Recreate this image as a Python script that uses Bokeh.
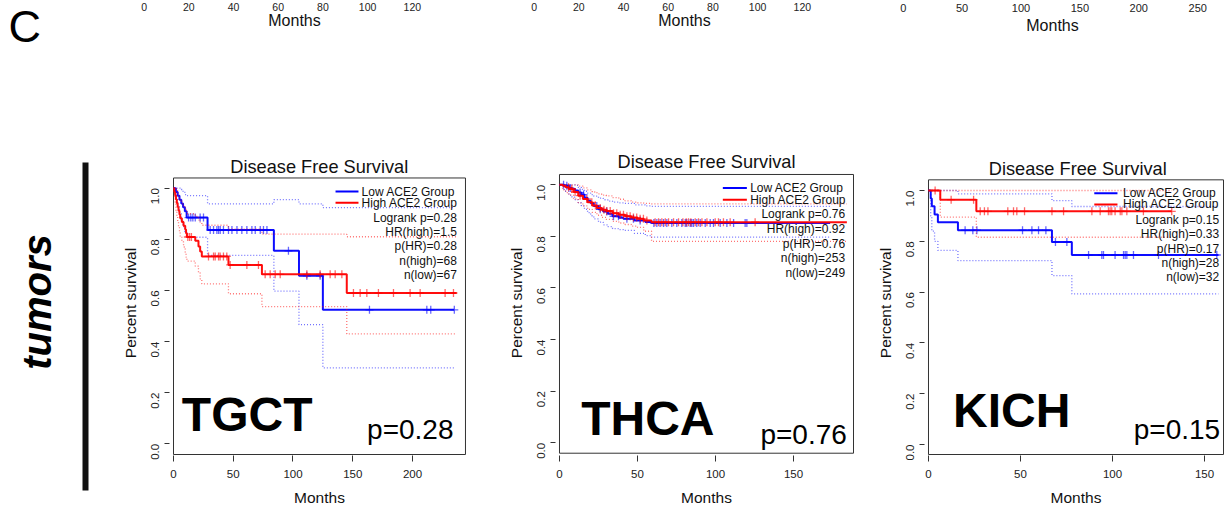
import math
from bisect import bisect_right
from bokeh.plotting import figure
from bokeh.layouts import column, row
from bokeh.models import Range1d, FixedTicker, PrintfTickFormatter, Label
from bokeh.embed import file_html
from bokeh.resources import INLINE

FONT = "Liberation Sans"
BLUE = "#0000FF"
RED = "#FF0000"

# ---------------- data ----------------
# TGCT
tgct_low_t = [0, 2, 3.5, 5, 6.5, 8, 9.5, 11, 28.5, 84, 105, 125]
tgct_low_s = [1.0, .985, .970, .955, .940, .925, .910, .885, .836, .755, .657, .524]
tgct_low_hi = [1.0, 1.0, 1.0, 1.0, .995, .985, .975, .971, .939, .955, .939, .924]
tgct_low_lo = [1.0, .96, .93, .90, .875, .85, .83, .808, .737, .597, .466, .297]
tgct_low_end = 235
tgct_low_cens = [12.6, 14.5, 16.2, 18.2, 22.3, 25.1, 30.7, 33.5, 36.3, 37.7, 39.1, 41.8, 46, 48.9,
                 53.1, 57.2, 61.4, 65.6, 68.4, 72.6, 75.3, 78.2, 96.2, 111.6, 122.7, 164, 212, 215.3, 235]
tgct_high_t = [0, 0.7, 1.4, 2.1, 2.8, 3.5, 4.2, 5, 5.6, 7, 8.4, 9.8, 10.5, 11.2, 18.2, 20.9, 22.3, 23.7, 46, 74, 145]
tgct_high_s = [1, .985, .971, .956, .941, .926, .912, .897, .882, .868, .853, .838, .824, .809, .794, .772, .752, .733, .70, .663, .59]
tgct_high_hi = [1, 1, 1, .998, .99, .98, .97, .96, .95, .94, .93, .92, .91, .90, .89, .875, .865, .855, .84, .82, .81]
tgct_high_lo = [1, .96, .94, .91, .89, .87, .85, .83, .81, .79, .77, .745, .73, .715, .695, .67, .645, .626, .587, .537, .43]
tgct_high_end = 237
tgct_high_cens = [12, 13.5, 15, 29.3, 33.5, 34.9, 37.7, 39, 41.8, 44.6, 47.4, 61.4, 71.1, 76.7, 80.9, 85.1,
                  89.3, 111.6, 122.7, 131.1, 135.3, 140.9, 150.6, 156.2, 161.8, 171.5, 184.1, 198, 206.4, 227.3, 234.3]

# THCA
thca_low_t = [0, 3, 6, 8, 10, 12, 14, 16, 18, 20, 22, 25, 28, 31, 34, 38, 41, 48, 55, 59]
thca_low_s = [1.0, .996, .988, .984, .978, .970, .962, .950, .938, .928, .918, .905, .896, .888, .878, .872, .868, .862, .856, .852]
thca_low_hi = [1.0, 1.0, 1.0, 1.0, .998, .99, .982, .975, .968, .962, .956, .948, .942, .937, .933, .93, .928, .922, .918, .916]
thca_low_lo = [1.0, .975, .96, .952, .942, .93, .918, .905, .892, .88, .868, .855, .845, .838, .83, .826, .823, .812, .803, .797]
thca_low_end = 173.5
thca_low_cens = [2.6, 4.7, 6.9, 13.2, 15.4, 23.9, 26.1, 30.3, 34.6, 37.8, 43.2, 47.4, 51.7, 60.5, 62.4, 64.5,
                 66.7, 68.8, 72, 75.2, 78.4, 80.6, 81.6, 83.8, 84.8, 85.9, 88, 90.2, 93.4, 96.6, 98.7, 103,
                 107.3, 111.6, 119, 120.1]
thca_high_t = [0, 2, 4, 6, 9, 12, 15, 18, 21, 24, 27, 30, 34, 38, 42, 46, 50, 54, 59]
thca_high_s = [1.0, .996, .99, .984, .972, .958, .945, .932, .92, .91, .903, .898, .89, .884, .878, .873, .868, .862, .855]
thca_high_hi = [1.0, 1.0, 1.0, 1.0, 1.0, .995, .988, .98, .972, .965, .96, .957, .95, .944, .938, .933, .93, .928, .926]
thca_high_lo = [1.0, .98, .97, .96, .945, .93, .918, .905, .893, .882, .874, .866, .858, .852, .846, .84, .835, .82, .781]
thca_high_end = 184.2
thca_high_cens = [5.8, 7.9, 10, 13.2, 17.5, 20.7, 23, 26.1, 28.5, 30.3, 32.5, 34.6, 36.7, 38.9, 41, 43.2,
                  45.3, 47.4, 49.5, 51.7, 53.8, 56, 61.3, 63.5, 65.6, 67.8, 69.9, 73.1, 76.3, 79.1, 81.2,
                  82.7, 84.2, 87, 89.1, 91.3, 94.5, 99.8, 101.9, 105.1, 109.4, 125.4]

# KICH
kich_low_t = [0, 1.2, 1.8, 3.3, 5.1, 16, 67.1, 77.9]
kich_low_s = [1, .969, .938, .906, .875, .844, .797, .746]
kich_low_hi = [1, 1, 1, 1, 1, .987, .96, .937]
kich_low_lo = [1, .90, .84, .80, .764, .724, .665, .593]
kich_low_end = 157.6
kich_low_cens = [19.9, 24.1, 26.3, 51.1, 56.2, 59.8, 63.8, 69, 75.2, 87, 94.2, 95.1, 101.4, 106, 106.9,
                 107.8, 111.4, 125, 156.7]
kich_high_t = [0, 6.4, 26]
kich_high_s = [1, .964, .918]
kich_high_hi = [1, 1, 1]
kich_high_lo = [1, .895, .816]
kich_high_end = 132.2
kich_high_cens = [3.6, 12.3, 24.5, 28.1, 30.4, 32.3, 43.1, 46.2, 48, 52.2, 67.1, 73.4, 88.8, 93.3, 97.8,
                  98.7, 99.6, 101.4, 104.2, 105.1, 107.8, 116.8, 132.2]

legend_labels = ["Low ACE2 Group", "High ACE2 Group"]
tgct_stats = ["Logrank p=0.28", "HR(high)=1.5", "p(HR)=0.28", "n(high)=68", "n(low)=67"]
thca_stats = ["Logrank p=0.76", "HR(high)=0.92", "p(HR)=0.76", "n(high)=253", "n(low)=249"]
kich_stats = ["Logrank p=0.15", "HR(high)=0.33", "p(HR)=0.17", "n(high)=28", "n(low)=32"]
y_ticks = [0.0, 0.2, 0.4, 0.6, 0.8, 1.0]

# tick labels of the row of plots above (shown at the very top edge)
above_ticks_a = ["0", "20", "40", "60", "80", "100", "120"]
above_ticks_b = ["0", "50", "100", "150", "200", "250"]


def draw_km(p, t, s, hi, lo, end, cens, color):
    x = list(t) + [end]
    for band in (hi, lo):
        p.step(x, list(band) + [band[-1]], mode="after", line_dash="1 2", line_color=color,
               line_alpha=0.55, line_width=1.3)
    p.step(x, list(s) + [s[-1]], mode="after", line_color=color, line_width=2, line_alpha=0.95)
    cy = [s[bisect_right(t, c) - 1] for c in cens]
    p.scatter(cens, cy, marker="cross", size=8, line_color=color, line_alpha=0.6, line_width=1.3)


def lab(p, x, y, text, size, align="left", style="normal", color="#111111", angle=0.0):
    p.add_layout(Label(x=x, y=y, text=text, text_align=align, text_baseline="middle",
                       text_font=FONT, text_font_size=size, text_font_style=style,
                       text_color=color, angle=angle))


def panel(cfg):
    p = figure(frame_width=cfg["fw"], frame_height=305,
               x_range=Range1d(*cfg["xr"]), y_range=Range1d(*cfg["yr"]),
               min_border_left=54, min_border_right=cfg["br"], min_border_top=0,
               min_border_bottom=66, output_backend="svg", toolbar_location=None)
    p.xgrid.visible = False
    p.ygrid.visible = False
    p.outline_line_color = None
    p.background_fill_color = "white"
    p.border_fill_color = "white"

    xa = p.xaxis[0]
    xa.ticker = FixedTicker(ticks=cfg["xticks"])
    xa.axis_line_color = None
    xa.major_tick_in = 0
    xa.major_tick_out = 6
    xa.minor_tick_line_color = None
    xa.major_tick_line_color = "#333333"
    xa.major_label_standoff = 8
    xa.major_label_text_font = FONT
    xa.major_label_text_font_size = "11.5px"
    xa.major_label_text_color = "#222222"
    xa.axis_label = "Months"
    xa.axis_label_text_font = FONT
    xa.axis_label_text_font_size = "15.5px"
    xa.axis_label_text_font_style = "normal"
    xa.axis_label_text_color = "#111111"
    xa.axis_label_standoff = 8

    ya = p.yaxis[0]
    ya.ticker = FixedTicker(ticks=y_ticks)
    ya.formatter = PrintfTickFormatter(format="%.1f")
    ya.axis_line_color = None
    ya.major_tick_in = -3
    ya.major_tick_out = 8
    ya.minor_tick_line_color = None
    ya.major_tick_line_color = "#333333"
    ya.major_label_orientation = math.pi / 2
    ya.major_label_standoff = 9
    ya.major_label_text_font = FONT
    ya.major_label_text_font_size = "11.5px"
    ya.major_label_text_color = "#222222"
    ya.axis_label = "Percent survival"
    ya.axis_label_text_font = FONT
    ya.axis_label_text_font_size = "15.5px"
    ya.axis_label_text_font_style = "normal"
    ya.axis_label_text_color = "#111111"
    ya.axis_label_standoff = 6

    # plot box
    bx, bb, bt = cfg["box"]
    p.quad(left=[0], right=[bx], bottom=[bb], top=[bt], fill_color=None,
           line_color="#333333", line_width=1)

    draw_km(p, *cfg["low"], BLUE)
    draw_km(p, *cfg["high"], RED)

    lab(p, cfg["title_x"], cfg["title_y"], "Disease Free Survival", "18.2px", align="center")
    lx0, lx1, ltx = cfg["leg_x"]
    for txt, ly, col in zip(legend_labels, cfg["leg_y"], (BLUE, RED)):
        p.line([lx0, lx1], [ly, ly], line_color=col, line_width=2)
        lab(p, ltx, ly, txt, "12px")
    for st, sy in zip(cfg["stats"], cfg["stats_y"]):
        lab(p, cfg["stats_x"], sy, st, "12px", align="right")
    nx, ny = cfg["name_xy"]
    lab(p, nx, ny, cfg["name"], "48px", style="bold", color="black")
    px_, py_ = cfg["p_xy"]
    lab(p, px_, py_, cfg["pval"], "28px", align="right", color="black")
    return p


cfg1 = dict(fw=294, br=38, xr=(-0.837, 245.2), yr=(-0.0458, 1.1475), xticks=[0, 50, 100, 150, 200],
            box=(244.35, -0.0419, 1.04),
            low=(tgct_low_t, tgct_low_s, tgct_low_hi, tgct_low_lo, tgct_low_end, tgct_low_cens),
            high=(tgct_high_t, tgct_high_s, tgct_high_hi, tgct_high_lo, tgct_high_end, tgct_high_cens),
            title_x=122, title_y=1.0822, leg_x=(135.6, 154.8, 157.4), leg_y=(0.987, 0.943),
            stats=tgct_stats, stats_x=237.2, stats_y=[.885, .828, .772, .717, .659],
            name="TGCT", name_xy=(7.0, 0.114), pval="p=0.28", p_xy=(234.3, 0.054))
cfg2 = dict(fw=296, br=19, xr=(-0.641, 189.1), yr=(-0.0492, 1.1329), xticks=[0, 50, 100, 150],
            box=(188.46, -0.0403, 1.04),
            low=(thca_low_t, thca_low_s, thca_low_hi, thca_low_lo, thca_low_end, thca_low_cens),
            high=(thca_high_t, thca_high_s, thca_high_hi, thca_high_lo, thca_high_end, thca_high_cens),
            title_x=94.25, title_y=1.0864, leg_x=(104.7, 120.1, 122.2), leg_y=(0.988, 0.942),
            stats=thca_stats, stats_x=183.1, stats_y=[.888, .827, .771, .716, .657],
            name="THCA", name_xy=(13.9, 0.0926), pval="p=0.76", p_xy=(184.2, 0.031))
cfg3 = dict(fw=297, br=7, xr=(-0.543, 160.87), yr=(-0.0433, 1.1575), xticks=[0, 50, 100, 150],
            box=(160.33, -0.0394, 1.042),
            low=(kich_low_t, kich_low_s, kich_low_hi, kich_low_lo, kich_low_end, kich_low_cens),
            high=(kich_high_t, kich_high_s, kich_high_hi, kich_high_lo, kich_high_end, kich_high_cens),
            title_x=81.1, title_y=1.0866, leg_x=(90.1, 102.7, 105.7), leg_y=(0.989, 0.945),
            stats=kich_stats, stats_x=158, stats_y=[.885, .829, .770, .714, .659],
            name="KICH", name_xy=(13.3, 0.1335), pval="p=0.15", p_xy=(158.5, 0.0606))

f1 = panel(cfg1)
f2 = panel(cfg2)
f3 = panel(cfg3)


# ---------------- decorations ----------------
def blank(w, h, xr, yr):
    q = figure(width=w, height=h, x_range=Range1d(*xr), y_range=Range1d(*yr),
               x_axis_type=None, y_axis_type=None, min_border=0,
               output_backend="svg", toolbar_location=None)
    q.grid.visible = False
    q.outline_line_color = None
    q.background_fill_color = "white"
    q.border_fill_color = "white"
    return q


left = blank(118, 521, (0, 118), (521, 0))
lab(left, 8, 26, "C", "45px", color="black")
left.quad(left=[82], right=[88], top=[162], bottom=[490], fill_color="#111111", line_color=None)
lab(left, 36, 301.5, "tumors", "40px", align="center", style="bold italic", color="black",
    angle=math.pi / 2)

top = blank(1113, 150, (118, 1231), (150, 0))
for mx, my in ((294, 19.5), (684, 19.5), (1052, 25)):
    lab(top, mx, my, "Months", "16px", align="center")
for gx in (143.6, 533.6):
    for i, t in enumerate(above_ticks_a):
        lab(top, gx + 44.7 * i, 6, t, "10.5px", align="center", color="#222222")
for i, t in enumerate(above_ticks_b):
    lab(top, 902.7 + 58.9 * i, 7.5, t, "11px", align="center", color="#222222")

layout = row(left, column(top, row(f1, f2, f3)))
open("out.html", "w").write(file_html(layout, INLINE))
